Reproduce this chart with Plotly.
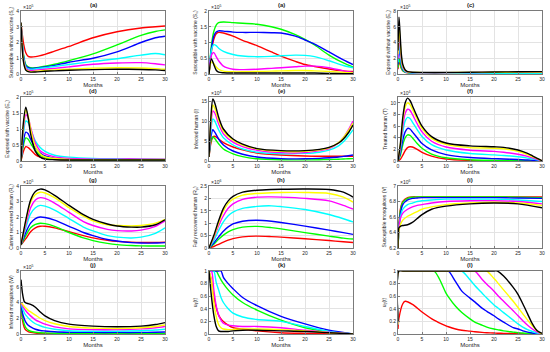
import plotly.graph_objects as go
from plotly.subplots import make_subplots

COLORS = ["red", "green", "blue", "cyan", "magenta", "yellow", "black"]
RGB = {"red": "#ff0000", "green": "#00ff00", "blue": "#0000ff", "cyan": "#00ffff",
       "magenta": "#ff00ff", "yellow": "#ffff00", "black": "#000000"}

MONTH_TICKS = [0, 5, 10, 15, 20, 25, 30]

# (a) Susceptible without vaccine, x10^5
T_A = [0, 0.5, 1, 1.5, 2, 3, 5, 7, 10, 15, 20, 25, 28, 30]
S_U = dict(
    red=[3.25, 2.0, 1.35, 1.12, 1.08, 1.1, 1.25, 1.45, 1.75, 2.3, 2.68, 2.92, 3.0, 3.05],
    green=[3.25, 1.3, 0.6, 0.45, 0.4, 0.4, 0.5, 0.62, 0.85, 1.28, 1.85, 2.45, 2.7, 2.8],
    blue=[3.25, 1.2, 0.52, 0.4, 0.36, 0.37, 0.45, 0.55, 0.75, 1.0, 1.4, 2.0, 2.3, 2.4],
    cyan=[3.25, 1.1, 0.45, 0.33, 0.3, 0.32, 0.4, 0.48, 0.6, 0.8, 0.97, 1.2, 1.3, 1.22],
    magenta=[3.25, 1.0, 0.38, 0.25, 0.22, 0.24, 0.3, 0.36, 0.45, 0.62, 0.7, 0.72, 0.65, 0.58],
    yellow=[3.25, 0.9, 0.3, 0.18, 0.15, 0.17, 0.22, 0.26, 0.3, 0.37, 0.4, 0.38, 0.34, 0.3],
    black=[3.25, 0.8, 0.25, 0.15, 0.12, 0.13, 0.17, 0.2, 0.24, 0.28, 0.3, 0.29, 0.26, 0.22],
)

# (b) Susceptible with vaccine, x10^5
T_B = [0, 0.5, 1, 1.5, 2, 3, 5, 7, 10, 13, 15, 18, 20, 22, 25, 28, 30]
S_V = dict(
    red=[0, 0.7, 1.1, 1.28, 1.32, 1.3, 1.2, 1.07, 0.9, 0.7, 0.57, 0.4, 0.3, 0.24, 0.16, 0.1, 0.08],
    green=[0, 0.9, 1.35, 1.55, 1.63, 1.65, 1.63, 1.61, 1.58, 1.5, 1.42, 1.25, 1.1, 0.92, 0.6, 0.35, 0.22],
    blue=[0, 0.8, 1.2, 1.33, 1.37, 1.36, 1.33, 1.32, 1.32, 1.31, 1.3, 1.2, 1.08, 0.95, 0.7, 0.45, 0.3],
    cyan=[0, 0.75, 0.93, 0.9, 0.82, 0.72, 0.62, 0.57, 0.55, 0.56, 0.58, 0.6, 0.59, 0.55, 0.42, 0.27, 0.2],
    magenta=[0, 0.6, 0.68, 0.55, 0.42, 0.25, 0.15, 0.14, 0.15, 0.18, 0.2, 0.23, 0.25, 0.25, 0.2, 0.1, 0.05],
    yellow=[0, 0.38, 0.33, 0.22, 0.15, 0.09, 0.07, 0.07, 0.08, 0.09, 0.1, 0.11, 0.11, 0.1, 0.08, 0.05, 0.03],
    black=[0, 0.48, 0.3, 0.12, 0.06, 0.04, 0.03, 0.03, 0.03, 0.03, 0.03, 0.03, 0.03, 0.03, 0.02, 0.01, 0.01],
)

# (c) Exposed without vaccine, x10^5
T_C = [0, 0.2, 0.4, 0.7, 1, 1.5, 2, 3, 5, 10, 15, 20, 25, 30]
E_U = dict(
    red=[0.6, 1.5, 1.3, 0.7, 0.4, 0.22, 0.16, 0.13, 0.12, 0.12, 0.12, 0.12, 0.12, 0.12],
    green=[0.8, 2.0, 1.6, 0.8, 0.45, 0.25, 0.18, 0.14, 0.12, 0.12, 0.13, 0.13, 0.14, 0.14],
    blue=[1.2, 3.2, 2.5, 1.2, 0.6, 0.3, 0.2, 0.15, 0.12, 0.12, 0.13, 0.14, 0.15, 0.16],
    cyan=[1.5, 4.0, 3.0, 1.4, 0.7, 0.3, 0.18, 0.12, 0.1, 0.1, 0.1, 0.1, 0.1, 0.1],
    magenta=[2.0, 5.0, 3.8, 1.8, 0.85, 0.4, 0.25, 0.18, 0.16, 0.16, 0.18, 0.2, 0.21, 0.22],
    yellow=[2.5, 6.0, 4.6, 2.1, 1.0, 0.45, 0.28, 0.2, 0.18, 0.18, 0.2, 0.22, 0.24, 0.26],
    black=[3.0, 7.2, 5.5, 2.5, 1.2, 0.5, 0.3, 0.22, 0.2, 0.2, 0.22, 0.25, 0.28, 0.3],
)

# (d) Exposed with vaccine, x10^5
T_D = [0, 0.5, 1, 1.5, 2, 3, 4, 5, 7, 10, 15, 20, 25, 30]
E_V = dict(
    red=[0, 0.3, 0.45, 0.42, 0.35, 0.2, 0.12, 0.08, 0.05, 0.04, 0.04, 0.05, 0.05, 0.05],
    green=[0, 0.48, 0.72, 0.68, 0.55, 0.32, 0.18, 0.11, 0.06, 0.04, 0.03, 0.03, 0.03, 0.03],
    blue=[0, 0.6, 0.9, 0.85, 0.68, 0.4, 0.25, 0.16, 0.09, 0.05, 0.04, 0.04, 0.04, 0.04],
    cyan=[0, 0.85, 1.25, 1.2, 1.0, 0.62, 0.42, 0.3, 0.18, 0.12, 0.08, 0.07, 0.06, 0.05],
    magenta=[0, 1.0, 1.45, 1.35, 1.05, 0.55, 0.32, 0.22, 0.13, 0.08, 0.06, 0.06, 0.06, 0.05],
    yellow=[0, 1.1, 1.6, 1.4, 1.0, 0.45, 0.22, 0.13, 0.08, 0.05, 0.04, 0.04, 0.04, 0.04],
    black=[0, 1.2, 1.68, 1.35, 0.85, 0.3, 0.12, 0.06, 0.04, 0.03, 0.03, 0.03, 0.03, 0.03],
)

# (e) Infected human, x10^4
T_E = [0, 0.4, 0.8, 1.2, 2, 3, 5, 7, 10, 15, 20, 23, 25, 27, 28, 29, 30]
INF = dict(
    red=[1, 4.5, 6.0, 6.2, 5.5, 4.6, 3.5, 2.8, 2.0, 1.5, 1.25, 1.2, 1.2, 1.2, 1.2, 1.2, 1.2],
    green=[1, 5, 6.0, 5.6, 4.3, 3.0, 1.8, 1.1, 0.55, 0.3, 0.28, 0.32, 0.38, 0.45, 0.5, 0.55, 0.6],
    blue=[1, 6, 7.8, 7.2, 5.5, 4.0, 2.5, 1.7, 1.0, 0.6, 0.55, 0.65, 0.8, 1.0, 1.15, 1.3, 1.5],
    cyan=[1, 7.5, 10.5, 10, 7.8, 5.8, 4.0, 3.0, 2.2, 1.8, 1.9, 2.2, 2.7, 3.8, 4.8, 6.2, 7.8],
    magenta=[1, 9, 12.5, 12, 9.3, 6.8, 4.7, 3.6, 2.7, 2.1, 2.1, 2.6, 3.1, 4.5, 5.8, 7.7, 10],
    yellow=[1, 10, 14, 13.2, 10.2, 7.5, 5.2, 4.0, 3.0, 2.4, 2.4, 2.8, 3.3, 4.6, 5.8, 7.5, 9.5],
    black=[1, 11, 15.5, 14.5, 11, 8, 5.5, 4.2, 3.1, 2.6, 2.6, 2.9, 3.4, 4.5, 5.5, 7, 9],
)

# (f) Treated human, x10^4
T_F = [0, 0.5, 1, 1.5, 2, 2.5, 3, 4, 5, 7, 10, 15, 20, 22, 25, 27, 28, 29, 30]
TRT = dict(
    red=[0, 0.3, 1.0, 1.8, 2.3, 2.45, 2.4, 2.0, 1.5, 0.85, 0.35, 0.1, 0.05, 0.04, 0.03, 0.02, 0.01, 0.01, 0],
    green=[0, 1.0, 2.8, 4.0, 4.5, 4.4, 4.0, 3.0, 2.2, 1.2, 0.55, 0.22, 0.12, 0.1, 0.07, 0.05, 0.04, 0.02, 0],
    blue=[0, 1.4, 3.6, 5.0, 5.6, 5.5, 5.0, 4.0, 3.0, 1.9, 1.1, 0.6, 0.4, 0.35, 0.25, 0.18, 0.12, 0.07, 0.01],
    cyan=[0, 2, 5, 6.9, 7.5, 7.3, 6.7, 5.4, 4.2, 2.8, 1.9, 1.3, 1.05, 0.95, 0.72, 0.5, 0.35, 0.2, 0.02],
    magenta=[0, 2.4, 6, 8.2, 8.9, 8.7, 8.0, 6.4, 5.0, 3.4, 2.4, 1.85, 1.65, 1.5, 1.15, 0.8, 0.55, 0.3, 0.03],
    yellow=[0, 2.8, 7, 9.3, 10, 9.7, 8.9, 7.2, 5.6, 3.9, 2.85, 2.3, 2.2, 2.1, 1.65, 1.1, 0.75, 0.4, 0.05],
    black=[0, 3, 7.5, 10, 10.8, 10.4, 9.5, 7.6, 6.0, 4.2, 3.1, 2.6, 2.45, 2.35, 1.9, 1.3, 0.9, 0.45, 0.05],
)

# (g) Carrier recovered human, x10^5
T_G = [0, 1, 2, 3, 4, 5, 7, 10, 13, 15, 18, 20, 23, 25, 28, 30]
R_C = dict(
    red=[0.2, 0.6, 1.05, 1.3, 1.4, 1.4, 1.3, 1.05, 0.8, 0.65, 0.5, 0.43, 0.38, 0.36, 0.36, 0.38],
    green=[0.2, 0.8, 1.3, 1.52, 1.6, 1.57, 1.4, 1.0, 0.65, 0.48, 0.3, 0.22, 0.16, 0.14, 0.13, 0.13],
    blue=[0.2, 1.0, 1.6, 1.9, 2.0, 1.97, 1.8, 1.4, 1.0, 0.8, 0.55, 0.45, 0.35, 0.32, 0.32, 0.35],
    cyan=[0.2, 1.3, 2.2, 2.6, 2.75, 2.7, 2.45, 1.9, 1.35, 1.1, 0.8, 0.7, 0.65, 0.7, 0.95, 1.3],
    magenta=[0.2, 1.5, 2.6, 3.1, 3.25, 3.2, 2.9, 2.3, 1.7, 1.45, 1.2, 1.12, 1.1, 1.15, 1.4, 1.75],
    yellow=[0.2, 1.7, 2.95, 3.45, 3.6, 3.55, 3.25, 2.6, 2.05, 1.75, 1.5, 1.45, 1.42, 1.45, 1.6, 1.85],
    black=[0.2, 1.8, 3.1, 3.65, 3.8, 3.75, 3.4, 2.75, 2.15, 1.85, 1.55, 1.42, 1.35, 1.35, 1.5, 1.82],
)

# (h) Fully recovered human, x10^6
T_H = [0, 1, 2, 3, 4, 5, 7, 10, 13, 15, 20, 25, 28, 30]
R_P = dict(
    red=[0, 0.06, 0.15, 0.24, 0.32, 0.38, 0.45, 0.48, 0.46, 0.44, 0.37, 0.3, 0.25, 0.22],
    green=[0, 0.15, 0.35, 0.52, 0.65, 0.74, 0.84, 0.87, 0.82, 0.77, 0.62, 0.48, 0.4, 0.36],
    blue=[0, 0.2, 0.45, 0.68, 0.85, 0.97, 1.08, 1.12, 1.08, 1.03, 0.88, 0.72, 0.62, 0.55],
    cyan=[0, 0.3, 0.7, 1.05, 1.3, 1.45, 1.6, 1.68, 1.7, 1.67, 1.55, 1.35, 1.18, 1.05],
    magenta=[0, 0.4, 0.9, 1.3, 1.6, 1.78, 1.96, 2.05, 2.06, 2.05, 2.0, 1.9, 1.72, 1.57],
    yellow=[0, 0.45, 1.0, 1.5, 1.8, 1.97, 2.13, 2.2, 2.23, 2.24, 2.24, 2.2, 2.05, 1.85],
    black=[0, 0.5, 1.1, 1.6, 1.9, 2.08, 2.25, 2.33, 2.36, 2.37, 2.38, 2.36, 2.25, 2.05],
)

# (i) Susceptible mosquitoes, x10^6
T_I = [0, 0.2, 0.5, 1, 2, 3, 4, 5, 7, 10, 15, 20, 25, 30]
MOS_V = dict(
    red=[6.2, 6.5, 6.7, 6.8, 6.85, 6.86, 6.86, 6.86, 6.86, 6.86, 6.86, 6.86, 6.86, 6.86],
    green=[6.2, 6.48, 6.68, 6.79, 6.84, 6.855, 6.86, 6.86, 6.86, 6.86, 6.86, 6.86, 6.855, 6.85],
    blue=[6.2, 6.45, 6.64, 6.76, 6.82, 6.84, 6.845, 6.85, 6.85, 6.85, 6.85, 6.85, 6.845, 6.84],
    cyan=[6.2, 6.42, 6.6, 6.7, 6.76, 6.78, 6.8, 6.81, 6.82, 6.83, 6.83, 6.83, 6.82, 6.8],
    magenta=[6.2, 6.45, 6.58, 6.65, 6.7, 6.73, 6.75, 6.76, 6.78, 6.8, 6.81, 6.81, 6.8, 6.77],
    yellow=[6.2, 6.42, 6.5, 6.56, 6.61, 6.64, 6.67, 6.7, 6.73, 6.76, 6.78, 6.79, 6.78, 6.75],
    black=[6.2, 6.46, 6.48, 6.49, 6.5, 6.53, 6.58, 6.63, 6.7, 6.74, 6.77, 6.78, 6.77, 6.72],
)

# (j) Infected mosquitoes, x10^5
T_J = [0, 0.3, 0.7, 1, 1.5, 2, 3, 4, 5, 7, 10, 15, 20, 25, 28, 30]
MOS_W = dict(
    red=[4.0, 1.8, 0.8, 0.5, 0.3, 0.2, 0.12, 0.08, 0.06, 0.05, 0.04, 0.03, 0.03, 0.03, 0.03, 0.03],
    green=[4.0, 2.2, 1.2, 0.8, 0.5, 0.35, 0.22, 0.16, 0.13, 0.1, 0.08, 0.07, 0.07, 0.07, 0.07, 0.08],
    blue=[4.0, 2.7, 1.9, 1.5, 1.1, 0.9, 0.6, 0.45, 0.38, 0.28, 0.22, 0.2, 0.2, 0.2, 0.22, 0.25],
    cyan=[4.0, 3.3, 2.7, 2.4, 2.05, 1.75, 1.3, 1.05, 0.85, 0.6, 0.42, 0.35, 0.35, 0.42, 0.5, 0.6],
    magenta=[4.0, 3.6, 3.2, 2.95, 2.6, 2.3, 1.8, 1.5, 1.25, 0.9, 0.65, 0.55, 0.55, 0.65, 0.8, 0.95],
    yellow=[4.0, 3.8, 3.5, 3.3, 3.0, 2.8, 2.4, 2.0, 1.7, 1.3, 0.95, 0.75, 0.7, 0.8, 0.95, 1.15],
    black=[6.9, 5.2, 4.1, 3.95, 3.85, 3.75, 3.4, 2.8, 2.3, 1.7, 1.25, 1.0, 0.92, 1.0, 1.2, 1.45],
)

# (k) Control u1(t)
T_K = [0, 0.5, 1, 1.5, 2, 2.5, 3, 4, 5, 7, 10, 15, 20, 25, 30]
U1 = dict(
    red=[1, 0.85, 0.6, 0.42, 0.3, 0.24, 0.2, 0.14, 0.1, 0.08, 0.05, 0.02, 0.01, 0.005, 0],
    green=[1, 1, 1, 1, 0.93, 0.86, 0.8, 0.7, 0.62, 0.5, 0.38, 0.22, 0.1, 0.04, 0],
    blue=[1, 1, 1, 1, 1, 1, 0.9, 0.8, 0.72, 0.58, 0.45, 0.28, 0.16, 0.06, 0],
    cyan=[1, 1, 1, 0.82, 0.7, 0.58, 0.5, 0.4, 0.33, 0.27, 0.23, 0.2, 0.12, 0.04, 0],
    magenta=[1, 1, 0.7, 0.45, 0.3, 0.22, 0.17, 0.14, 0.13, 0.12, 0.12, 0.1, 0.06, 0.03, 0],
    yellow=[1, 0.85, 0.5, 0.28, 0.15, 0.1, 0.08, 0.07, 0.07, 0.08, 0.08, 0.07, 0.05, 0.02, 0],
    black=[1, 0.6, 0.3, 0.12, 0.05, 0.04, 0.04, 0.04, 0.05, 0.06, 0.06, 0.05, 0.04, 0.02, 0],
)

# (l) Control u2(t)
T_L = [0, 0.2, 1, 1.5, 3, 5, 7.5, 10, 10.5, 12, 13.3, 15, 16, 17.5, 18.5, 20, 20.7, 22, 24, 25, 26, 27, 28, 29, 30]
U2 = dict(
    red=[0.08, 0.25, 0.48, 0.52, 0.47, 0.35, 0.22, 0.13, 0.115, 0.08, 0.06, 0.045, 0.035, 0.025, 0.02, 0.015, 0.013, 0.01, 0.007, 0.005, 0.004, 0.003, 0.002, 0.001, 0],
    green=[0.15, 1, 1, 1, 1, 1, 1, 0.65, 0.59, 0.44, 0.34, 0.24, 0.19, 0.14, 0.11, 0.08, 0.07, 0.05, 0.03, 0.02, 0.015, 0.01, 0.005, 0.002, 0],
    blue=[0.15, 1, 1, 1, 1, 1, 1, 1, 1, 0.83, 0.68, 0.57, 0.51, 0.41, 0.36, 0.29, 0.25, 0.19, 0.1, 0.08, 0.05, 0.03, 0.015, 0.005, 0],
    cyan=[0.15, 1, 1, 1, 1, 1, 1, 1, 1, 1, 1, 0.86, 0.77, 0.65, 0.57, 0.46, 0.42, 0.34, 0.22, 0.16, 0.11, 0.07, 0.04, 0.015, 0],
    magenta=[0.15, 1, 1, 1, 1, 1, 1, 1, 1, 1, 1, 1, 1, 0.87, 0.79, 0.68, 0.62, 0.52, 0.37, 0.29, 0.21, 0.14, 0.08, 0.03, 0],
    yellow=[0.15, 1, 1, 1, 1, 1, 1, 1, 1, 1, 1, 1, 1, 1, 1, 0.88, 0.82, 0.7, 0.52, 0.42, 0.32, 0.22, 0.13, 0.05, 0],
    black=[0.2, 1, 1, 1, 1, 1, 1, 1, 1, 1, 1, 1, 1, 1, 1, 1, 1, 0.92, 0.74, 0.63, 0.48, 0.32, 0.16, 0.05, 0.01],
)

PANELS = [
    ("(a)", "Susceptible without vaccine (S<sub>u</sub>)", T_A, S_U, [0, 4], [0, 1, 2, 3, 4], "5"),
    ("(a)", "Susceptible with vaccine (S<sub>v</sub>)", T_B, S_V, [0, 2], [0, 0.5, 1, 1.5, 2], "5"),
    ("(c)", "Exposed without vaccine (E<sub>u</sub>)", T_C, E_U, [0, 8], [0, 2, 4, 6, 8], "5"),
    ("(d)", "Exposed with vaccine (E<sub>v</sub>)", T_D, E_V, [0, 2], [0, 0.5, 1, 1.5, 2], "5"),
    ("(e)", "Infected human (I)", T_E, INF, [0, 16], [0, 5, 10, 15], "4"),
    ("(f)", "Treated human (T)", T_F, TRT, [0, 11], [0, 2, 4, 6, 8, 10], "4"),
    ("(g)", "Carrier recovered human (R<sub>c</sub>)", T_G, R_C, [0, 4], [0, 1, 2, 3, 4], "5"),
    ("(h)", "Fully recovered human (R<sub>p</sub>)", T_H, R_P, [0, 2.5], [0, 0.5, 1, 1.5, 2, 2.5], "6"),
    ("(i)", "Susceptible mosquitoes (V)", T_I, MOS_V, [6.2, 7], [6.2, 6.4, 6.6, 6.8, 7], "6"),
    ("(j)", "Infected mosquitoes (W)", T_J, MOS_W, [0, 8], [0, 2, 4, 6, 8], "5"),
    ("(k)", "u<sub>1</sub>(t)", T_K, U1, [0, 1], [0, 0.2, 0.4, 0.6, 0.8, 1], None),
    ("(l)", "u<sub>2</sub>(t)", T_L, U2, [0, 1], [0, 0.2, 0.4, 0.6, 0.8, 1], None),
]

W, H = 550, 352
COL_X = [(21, 165), (209, 353), (398, 542)]
ROW_Y = [(11, 74), (97, 161), (186, 248), (271, 334)]

FONT = "Liberation Sans, Arial, sans-serif"
TXT = "#262626"

fig = make_subplots(rows=4, cols=3)
annotations = []
for i, (ttl, ylab, t, data, yr, yt, expo) in enumerate(PANELS):
    r, c = divmod(i, 3)
    for col in COLORS:
        fig.add_trace(go.Scatter(x=t, y=data[col], mode="lines",
                                 line=dict(color=RGB[col], width=1.4, shape="spline", smoothing=0.8),
                                 showlegend=False, hoverinfo="skip"),
                      row=r + 1, col=c + 1)
    x0, x1 = COL_X[c]
    y0, y1 = ROW_Y[r]
    dx = [x0 / W, x1 / W]
    dy = [1 - y1 / H, 1 - y0 / H]
    ax = "" if i == 0 else str(i + 1)
    common = dict(showline=True, mirror=True, linecolor="#7a7a7a", linewidth=0.8,
                  showgrid=True, gridcolor="#e3e3e3", gridwidth=0.6, zeroline=False,
                  ticks="inside", ticklen=2, tickcolor="#7a7a7a", tickwidth=0.6,
                  tickfont=dict(family=FONT, size=5, color=TXT), automargin=False)
    fig.layout["xaxis" + ax].update(domain=dx, range=[0, 30], tickvals=MONTH_TICKS,
                                    title=dict(text="Months", font=dict(family=FONT, size=6, color=TXT), standoff=1),
                                    **common)
    fig.layout["yaxis" + ax].update(domain=dy, range=yr, tickvals=yt,
                                    title=dict(text=ylab, font=dict(family=FONT, size=5, color=TXT), standoff=2),
                                    **common)
    annotations.append(dict(text="<b>" + ttl + "</b>", x=(dx[0] + dx[1]) / 2, y=dy[1], xref="paper", yref="paper",
                            xanchor="center", yanchor="bottom", yshift=1, showarrow=False,
                            font=dict(family=FONT, size=6, color=TXT)))
    if expo:
        annotations.append(dict(text="\u00d710<sup>" + expo + "</sup>", x=dx[0], y=dy[1], xref="paper", yref="paper",
                                xanchor="left", yanchor="bottom", yshift=-1, showarrow=False,
                                font=dict(family=FONT, size=5, color=TXT)))

fig.update_layout(width=W, height=H, margin=dict(l=0, r=0, t=0, b=0),
                  paper_bgcolor="white", plot_bgcolor="white", annotations=annotations)
fig.write_html("out.html", config={"displayModeBar": False},
               post_script="document.body.style.margin='0';document.body.style.overflow='hidden';")
